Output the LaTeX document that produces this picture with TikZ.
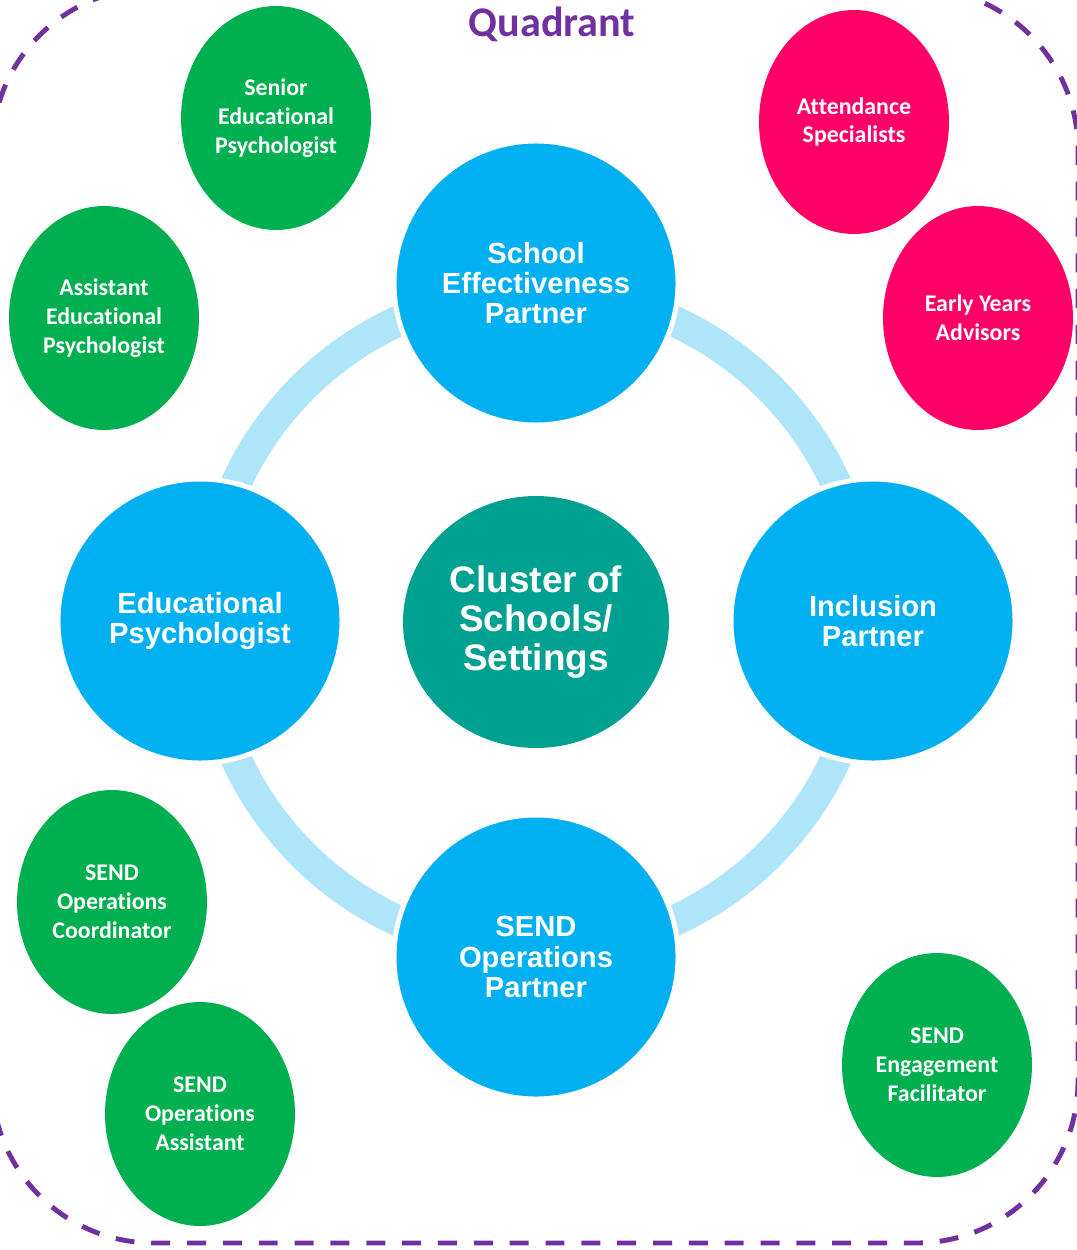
\documentclass[tikz,border=0pt]{standalone}
\usepackage{fontspec}
\newfontfamily\smallface{Carlito}[Ligatures=NoCommon]
\newfontfamily\bigface{Liberation Sans}
\usetikzlibrary{shapes.geometric}
\definecolor{rolecyan}{HTML}{00B0F0}
\definecolor{ringblue}{HTML}{AEE5F9}
\definecolor{clusterteal}{HTML}{00A190}
\definecolor{teamgreen}{HTML}{00B050}
\definecolor{teampink}{HTML}{FF0066}
\definecolor{quadpurple}{HTML}{7030A0}
\tikzset{
  partner/.style={circle, fill=rolecyan, draw=white, line width=2.8pt,
    minimum size=5.68cm, inner sep=0pt, text=white, align=center,
    font=\bigface\bfseries\fontsize{16.6}{17.3}\selectfont},
  cluster/.style={ellipse, fill=clusterteal, minimum width=5.32cm,
    minimum height=5.04cm, inner sep=0pt, text=white, align=center,
    font=\bigface\bfseries\fontsize{21}{22.4}\selectfont},
  member/.style={ellipse, minimum width=3.8cm, minimum height=4.48cm,
    inner sep=0pt, text=white, align=center,
    font=\smallface\bfseries\fontsize{13.6}{16.4}\selectfont},
  greenmember/.style={member, fill=teamgreen},
  pinkmember/.style={member, fill=teampink},
  boundary/.style={draw=quadpurple, line width=2.8pt,
    dash pattern=on 10.8pt off 9.6pt},
}
\begin{document}
\begin{tikzpicture}[x=0.02cm, y=-0.02cm]
\useasboundingbox (0,0) rectangle (1077,1250);

% ring linking the four partners
\draw[ringblue, line width=17.6pt] (536,621) circle[radius=330];

% partners around the cluster
\node[partner] (sep) at (536,283) {School\\Effectiveness\\Partner};
\node[partner] (ep) at (200,621) {Educational\\Psychologist};
\node[partner] (ip) at (873,621) {Inclusion\\Partner};
\node[partner] (sop) at (536,957) {SEND\\Operations\\Partner};
\node[cluster] (cl) at (536,622) {Cluster of\\Schools/\\Settings};

% wider team members
\node[greenmember] (sen) at (276,118) {Senior\\Educational\\Psychologist};
\node[greenmember] (aep) at (104,318) {Assistant\\Educational\\Psychologist};
\node[pinkmember] (att) at (854,122) {Attendance\\Specialists};
\node[pinkmember] (eya) at (978,318) {Early Years\\Advisors};
\node[greenmember] (soc) at (112,902) {SEND\\Operations\\Coordinator};
\node[greenmember] (soa) at (200,1114) {SEND\\Operations\\Assistant};
\node[greenmember] (sef) at (937,1065) {SEND\\Engagement\\Facilitator};

% quadrant boundary
\draw[boundary, rounded corners=3.24cm] (-8,-12) rectangle (1078,1243);
\node[text=quadpurple, font=\smallface\bfseries\fontsize{24}{28}\selectfont]
  (title) at (552,24) {Quadrant};
\end{tikzpicture}
\end{document}
